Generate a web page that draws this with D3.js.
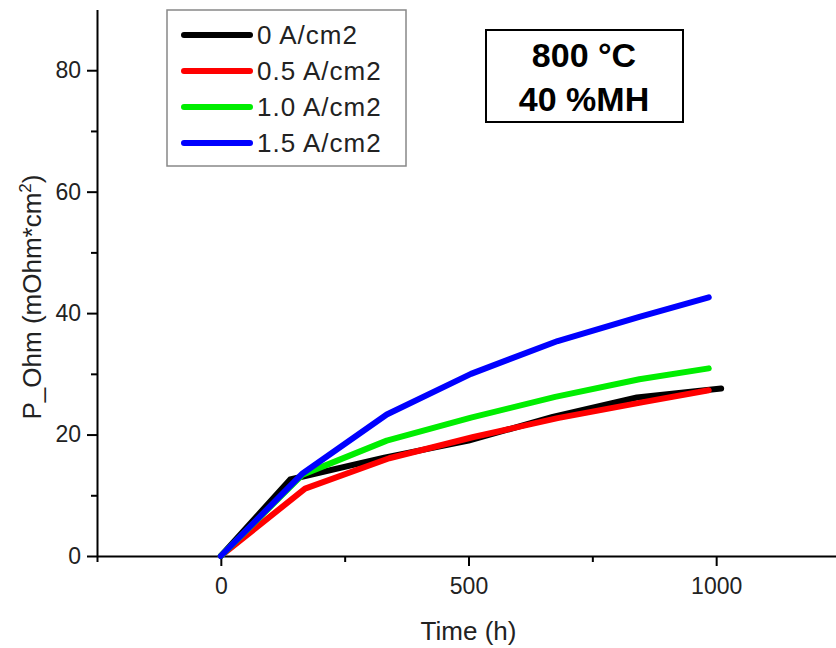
<!DOCTYPE html>
<html>

<head>
  <meta charset="UTF-8">
  <style>
    body { margin: 0; background: white; }
    svg { font-family: "Liberation Sans", Arial, sans-serif; display: block; }
    .axis path, .axis line { stroke: #000; stroke-width: 2px; }
    .axis text { font-size: 23px; fill: #222; }
  </style>
</head>

<body>
  <svg></svg>
  <script src="https://d3js.org/d3.v7.min.js"></script>

  <script>
    // series data
    let series_names = ["0 A/cm2", "0.5 A/cm2", "1.0 A/cm2", "1.5 A/cm2"];
    let series_colors = ["#000000", "#ff0000", "#00ee00", "#0000ff"];

    let hours_0 = [0, 140, 330, 500, 670, 840, 1010];
    let ohm_0 = [0, 12.6, 16.2, 19.0, 22.9, 26.1, 27.6];

    let hours_05 = [0, 170, 340, 510, 680, 850, 985];
    let ohm_05 = [0, 11.1, 16.1, 19.6, 22.7, 25.3, 27.3];

    let hours_10 = [0, 165, 335, 505, 675, 845, 985];
    let ohm_10 = [0, 13.4, 19.0, 22.8, 26.2, 29.1, 30.9];

    let hours_15 = [0, 165, 335, 505, 680, 845, 985];
    let ohm_15 = [0, 13.6, 23.3, 30.0, 35.4, 39.4, 42.6];

    let x_ticks = [0, 500, 1000];
    let x_minor = [-250, 250, 750, 1250];
    let y_ticks = [0, 20, 40, 60, 80];
    let y_minor = [10, 30, 50, 70];

    let all_hours = [hours_0, hours_05, hours_10, hours_15];
    let all_ohm = [ohm_0, ohm_05, ohm_10, ohm_15];

    let width = 836, height = 648;

    let svg = d3.select("svg")
      .attr("width", width)
      .attr("height", height);

    let x = d3.scaleLinear().domain([-250, 1250]).range([97, 840]);
    let y = d3.scaleLinear().domain([0, 90]).range([556, 9.5]);

    // minor ticks first, then the main axes on top
    svg.append("g")
      .attr("class", "axis")
      .attr("transform", "translate(0," + y(0) + ")")
      .call(d3.axisBottom(x).tickValues(x_minor).tickSize(6).tickFormat(""))
      .select(".domain").remove();

    svg.append("g")
      .attr("class", "axis")
      .attr("transform", "translate(" + x(-250) + ",0)")
      .call(d3.axisLeft(y).tickValues(y_minor).tickSize(6).tickFormat(""))
      .select(".domain").remove();

    svg.append("g")
      .attr("class", "axis")
      .attr("transform", "translate(0," + y(0) + ")")
      .call(d3.axisBottom(x).tickValues(x_ticks).tickFormat(d3.format("d"))
        .tickSize(10).tickSizeOuter(0).tickPadding(12));

    svg.append("g")
      .attr("class", "axis")
      .attr("transform", "translate(" + x(-250) + ",0)")
      .call(d3.axisLeft(y).tickValues(y_ticks).tickSize(10).tickSizeOuter(0).tickPadding(6));

    // axis titles
    svg.append("text")
      .attr("x", x(500))
      .attr("y", 640)
      .attr("text-anchor", "middle")
      .style("font-size", "26px")
      .style("fill", "#222")
      .text("Time (h)");

    let ylab = svg.append("text")
      .attr("transform", "translate(41,297) rotate(-90)")
      .attr("text-anchor", "middle")
      .style("font-size", "26px")
      .style("fill", "#222");
    ylab.append("tspan").text("P_Ohm (mOhm*cm");
    ylab.append("tspan").attr("dy", -10).style("font-size", "17px").text("2");
    ylab.append("tspan").attr("dy", 10).text(")");

    // lines
    let line = d3.line()
      .x(d => x(d[0]))
      .y(d => y(d[1]));

    all_hours.forEach(function (hrs, i) {
      let pts = hrs.map((h, j) => [h, all_ohm[i][j]]);
      svg.append("path")
        .datum(pts)
        .attr("d", line)
        .attr("fill", "none")
        .attr("stroke", series_colors[i])
        .attr("stroke-width", 6)
        .attr("stroke-linecap", "round")
        .attr("stroke-linejoin", "round");
    });

    // legend
    let legend = svg.append("g");
    legend.append("rect")
      .attr("x", 167).attr("y", 10)
      .attr("width", 239).attr("height", 156)
      .attr("fill", "white")
      .attr("stroke", "#888")
      .attr("stroke-width", 1.5);

    series_names.forEach(function (name, i) {
      let ly = 35 + i * 36;
      legend.append("line")
        .attr("x1", 184).attr("x2", 250)
        .attr("y1", ly).attr("y2", ly)
        .attr("stroke", series_colors[i])
        .attr("stroke-width", 6)
        .attr("stroke-linecap", "round");
      legend.append("text")
        .attr("x", 257).attr("y", ly + 9)
        .style("font-size", "26px")
        .style("letter-spacing", "1px")
        .style("fill", "#222")
        .text(name);
    });

    // condition box
    svg.append("rect")
      .attr("x", 486).attr("y", 30)
      .attr("width", 197).attr("height", 92)
      .attr("fill", "white")
      .attr("stroke", "#000")
      .attr("stroke-width", 2);

    svg.append("text")
      .attr("x", 584).attr("y", 67)
      .attr("text-anchor", "middle")
      .style("font-size", "34px")
      .style("font-weight", "bold")
      .text("800 °C");

    svg.append("text")
      .attr("x", 584).attr("y", 111)
      .attr("text-anchor", "middle")
      .style("font-size", "34px")
      .style("font-weight", "bold")
      .text("40 %MH");
  </script>

</body>

</html>
